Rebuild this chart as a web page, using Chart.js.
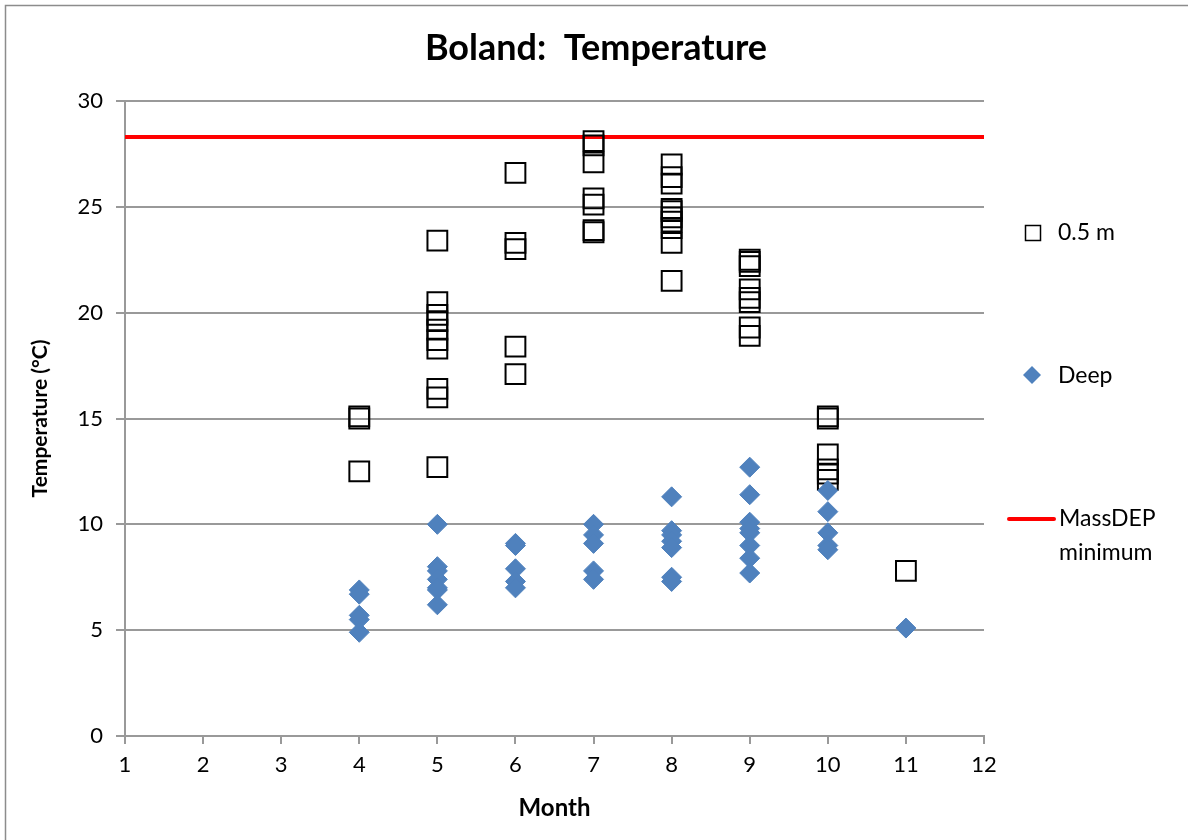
<!DOCTYPE html>
<html lang="en">
<head>
<meta charset="UTF-8">
<title>Boland: Temperature</title>
<script src="https://cdn.jsdelivr.net/npm/chart.js"></script>
<style>
  html, body { margin: 0; padding: 0; background: #fff; }
  #box { width: 1188px; height: 840px; position: relative; }
</style>
</head>
<body>
<div id="box"><canvas id="grafico"></canvas></div>
<script>
// 0.5 m readings, one array per month
const shallowM4  = [15.1, 15.0, 12.5];
const shallowM5  = [23.4, 20.5, 19.9, 19.6, 19.2, 18.7, 18.3, 16.4, 16.0, 12.7];
const shallowM6  = [26.6, 23.3, 23.0, 18.4, 17.1];
const shallowM7  = [28.1, 27.9, 27.1, 25.4, 25.1, 23.9, 23.8];
const shallowM8  = [27.0, 26.4, 26.1, 24.9, 24.8, 24.5, 24.3, 24.0, 23.3, 21.5];
const shallowM9  = [22.5, 22.4, 22.2, 21.1, 20.7, 20.5, 19.3, 18.9];
const shallowM10 = [15.1, 15.0, 13.3, 12.6, 12.4, 12.1];
const shallowM11 = [7.8];

// deep readings
const deepM4  = [6.9, 6.7, 5.7, 5.5, 4.9];
const deepM5  = [10.0, 8.0, 7.8, 7.4, 7.0, 6.9, 6.2];
const deepM6  = [9.1, 9.0, 7.9, 7.3, 7.0];
const deepM7  = [10.0, 9.5, 9.1, 7.8, 7.4];
const deepM8  = [11.3, 9.7, 9.5, 9.2, 8.9, 7.5, 7.3];
const deepM9  = [12.7, 11.4, 10.1, 9.8, 9.6, 9.0, 8.4, 7.7];
const deepM10 = [11.6, 10.6, 9.6, 9.0, 8.8];
const deepM11 = [5.1];

const months = [4, 5, 6, 7, 8, 9, 10, 11];
const shallowAll = [shallowM4, shallowM5, shallowM6, shallowM7, shallowM8, shallowM9, shallowM10, shallowM11];
const deepAll = [deepM4, deepM5, deepM6, deepM7, deepM8, deepM9, deepM10, deepM11];

// MassDEP minimum line
const minimumX = [1, 12];
const minimumY = 28.3;

const yTicks = [0, 5, 10, 15, 20, 25, 30];

function toPoints(groups) {
  const pts = [];
  groups.forEach((vals, i) => vals.forEach(v => pts.push({ x: months[i], y: v })));
  return pts;
}

const FONT = 'Lato, "Open Sans", sans-serif';
const GRAY = '#999999';

// title, outer frame and legend
const decorazioni = {
  id: 'decorazioni',
  beforeDraw(chart) {
    const ctx = chart.ctx;
    ctx.save();
    ctx.fillStyle = '#fff';
    ctx.fillRect(0, 0, chart.width, chart.height);
    ctx.strokeStyle = '#8c8c8c';
    ctx.lineWidth = 1.5;
    ctx.beginPath();
    ctx.moveTo(5.5, 840);
    ctx.lineTo(5.5, 5.5);
    ctx.lineTo(1188, 5.5);
    ctx.stroke();
    ctx.restore();
  },
  afterDraw(chart) {
    const ctx = chart.ctx;
    ctx.save();
    ctx.fillStyle = '#000';
    ctx.textBaseline = 'middle';
    ctx.textAlign = 'center';
    ctx.font = 'bold 36px ' + FONT;
    ctx.fillText('Boland:  Temperature', 596, 48);

    ctx.textAlign = 'left';
    ctx.font = '23px ' + FONT;
    // 0.5 m
    ctx.strokeStyle = '#000';
    ctx.lineWidth = 1.5;
    ctx.strokeRect(1025.5, 225.5, 15, 15);
    ctx.fillText('0.5 m', 1058, 233);
    // Deep
    ctx.fillStyle = '#4F81BD';
    ctx.beginPath();
    ctx.moveTo(1032, 366);
    ctx.lineTo(1041, 375);
    ctx.lineTo(1032, 384);
    ctx.lineTo(1023, 375);
    ctx.closePath();
    ctx.fill();
    ctx.fillStyle = '#000';
    ctx.fillText('Deep', 1058, 376);
    // MassDEP minimum
    ctx.strokeStyle = '#FF0000';
    ctx.lineWidth = 4;
    ctx.lineCap = 'round';
    ctx.beginPath();
    ctx.moveTo(1009, 519);
    ctx.lineTo(1054, 519);
    ctx.stroke();
    ctx.fillText('MassDEP', 1059, 519);
    ctx.fillText('minimum', 1059, 553);
    ctx.restore();
  }
};

const grafico = new Chart(document.getElementById('grafico').getContext('2d'), {
  type: 'scatter',
  data: {
    datasets: [
      {
        label: 'Deep',
        data: toPoints(deepAll),
        pointStyle: 'rectRot',
        pointRadius: 10,
        pointHoverRadius: 10,
        backgroundColor: '#4F81BD',
        borderColor: '#4F81BD',
        borderWidth: 1
      },
      {
        label: '0.5 m',
        data: toPoints(shallowAll),
        pointStyle: 'rect',
        pointRadius: 14,
        pointHoverRadius: 14,
        backgroundColor: 'rgba(0,0,0,0)',
        borderColor: '#000',
        borderWidth: 2
      },
      {
        label: 'MassDEP minimum',
        data: minimumX.map(x => ({ x: x, y: minimumY })),
        showLine: true,
        borderColor: '#FF0000',
        borderWidth: 4,
        pointRadius: 0,
        pointHoverRadius: 0
      }
    ]
  },
  options: {
    responsive: true,
    maintainAspectRatio: false,
    animation: false,
    layout: { padding: { left: 0, right: 204, top: 101, bottom: 0 } },
    plugins: {
      legend: { display: false },
      title: { display: false },
      tooltip: { enabled: false }
    },
    scales: {
      x: {
        type: 'linear',
        min: 1,
        max: 12,
        afterFit(scale) { scale.height = 104; },
        ticks: {
          stepSize: 1,
          color: '#000',
          padding: 8,
          font: { family: FONT, size: 22 }
        },
        grid: { drawOnChartArea: false, drawTicks: true, tickLength: 8, color: GRAY, lineWidth: 2 },
        border: { color: GRAY, width: 2 },
        title: {
          display: true,
          text: 'Month',
          color: '#000',
          font: { family: FONT, size: 24, weight: 'bold' },
          padding: { top: 0, bottom: 17 }
        }
      },
      y: {
        min: 0,
        max: 30,
        afterFit(scale) { scale.width = 125; },
        afterBuildTicks(scale) { scale.ticks = yTicks.map(v => ({ value: v })); },
        ticks: {
          color: '#000',
          padding: 13,
          font: { family: FONT, size: 22 }
        },
        grid: { drawTicks: true, tickLength: 9, color: GRAY, lineWidth: 2 },
        border: { color: GRAY, width: 2 },
        title: {
          display: true,
          text: 'Temperature (°C)',
          color: '#000',
          font: { family: FONT, size: 21, weight: 'bold' },
          padding: { top: 28, bottom: 0 }
        }
      }
    }
  },
  plugins: [decorazioni]
});
</script>
</body>
</html>
